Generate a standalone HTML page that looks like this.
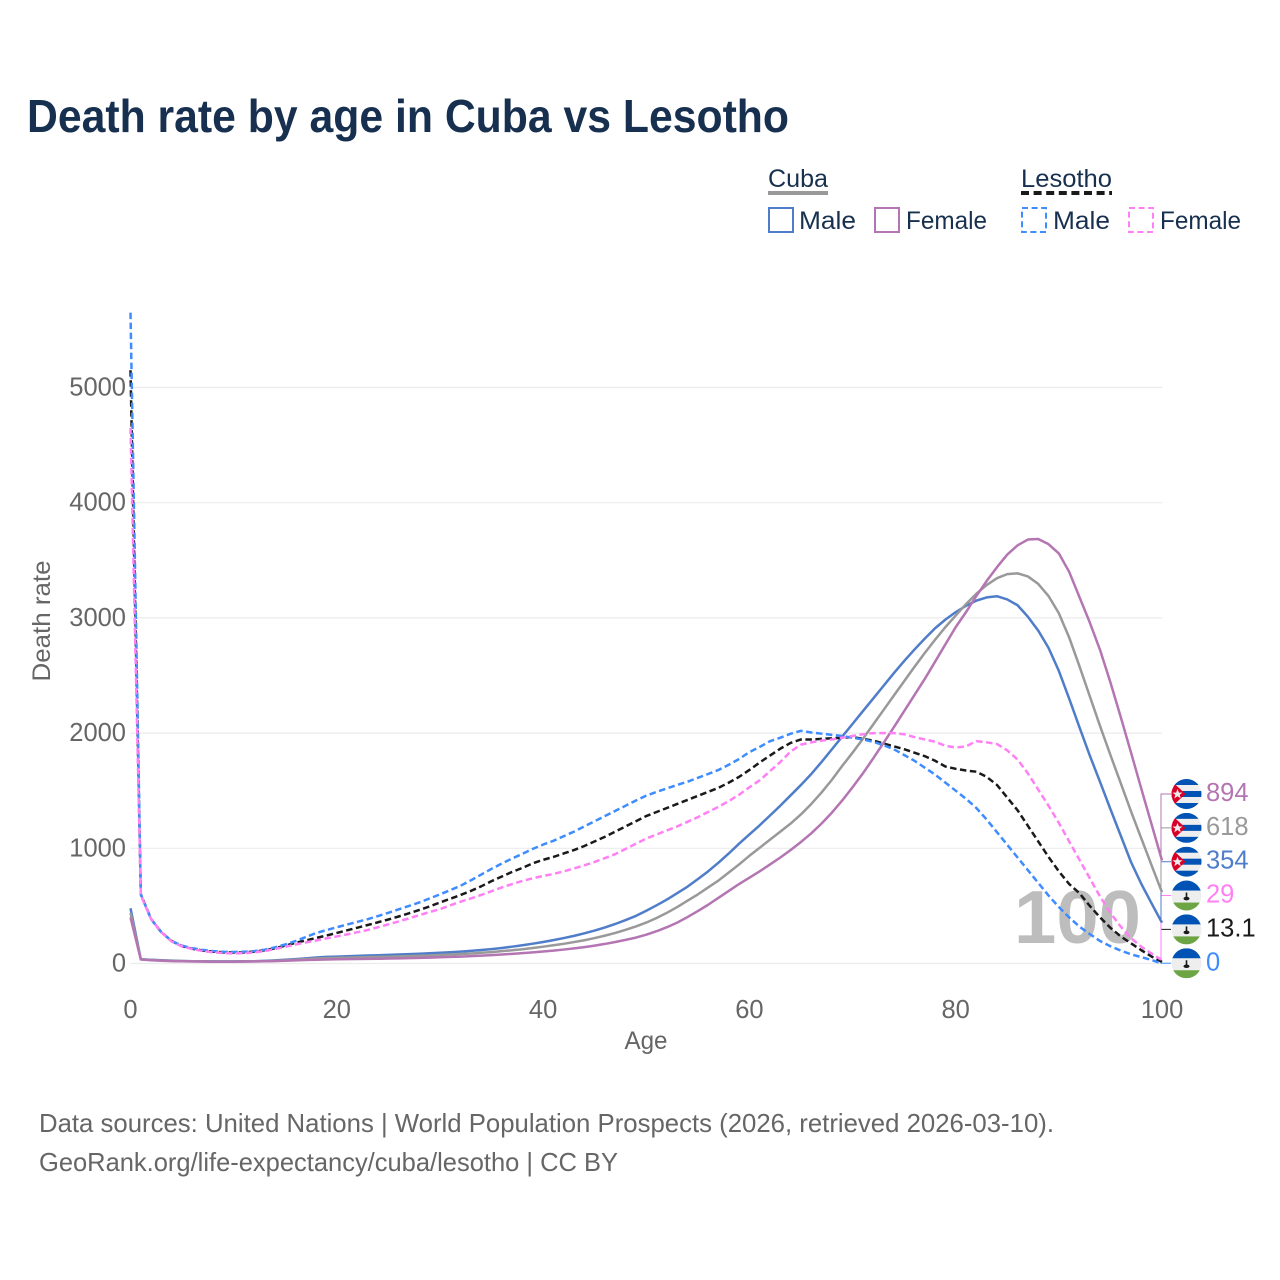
<!DOCTYPE html>
<html lang="en">
<head>
<meta charset="utf-8">
<title>Death rate by age in Cuba vs Lesotho</title>
<style>
html,body{margin:0;padding:0;background:#fff;}
svg{display:block;font-family:"Liberation Sans",sans-serif;}
</style>
</head>
<body>
<svg id="chart" xmlns="http://www.w3.org/2000/svg" width="1280" height="1280" viewBox="0 0 1280 1280">
<defs>
<clipPath id="flag-clip"><circle cx="0" cy="0" r="15"/></clipPath>
</defs>
<rect x="0" y="0" width="1280" height="1280" fill="#fff"/>
<text x="27" y="132" font-size="46" font-weight="700" fill="#18304f" textLength="762" lengthAdjust="spacingAndGlyphs">Death rate by age in Cuba vs Lesotho</text>

<g font-size="25" fill="#18304f">
<text x="768" y="187" textLength="60" lengthAdjust="spacingAndGlyphs">Cuba</text>
<line x1="768" x2="828" y1="193" y2="193" stroke="#999" stroke-width="4"/>
<text x="1021" y="187" textLength="91" lengthAdjust="spacingAndGlyphs">Lesotho</text>
<line x1="1021" x2="1112" y1="193" y2="193" stroke="#1a1a1a" stroke-width="4" stroke-dasharray="8 4.6"/>
<g>
<rect x="769" y="208" width="24" height="24" fill="none" stroke="#4f7dc9" stroke-width="2"/>
<text x="799" y="229" textLength="57" lengthAdjust="spacingAndGlyphs">Male</text>
</g>
<g>
<rect x="875" y="208" width="24" height="24" fill="none" stroke="#b475b3" stroke-width="2"/>
<text x="906" y="229" textLength="81" lengthAdjust="spacingAndGlyphs">Female</text>
</g>
<g>
<rect x="1022" y="208" width="24" height="24" fill="none" stroke="#3f8cff" stroke-width="2" stroke-dasharray="6 3.6"/>
<text x="1053" y="229" textLength="57" lengthAdjust="spacingAndGlyphs">Male</text>
</g>
<g>
<rect x="1129" y="208" width="24" height="24" fill="none" stroke="#ff80f5" stroke-width="2" stroke-dasharray="6 3.6"/>
<text x="1160" y="229" textLength="81" lengthAdjust="spacingAndGlyphs">Female</text>
</g>
</g>

<g id="grid"></g>
<g id="y-ticks"></g>
<g id="x-ticks"></g>
<text x="646" y="1049" text-anchor="middle" font-size="25" fill="#666" textLength="43" lengthAdjust="spacingAndGlyphs">Age</text>
<text transform="translate(50 621) rotate(-90)" text-anchor="middle" font-size="25" fill="#666" textLength="121" lengthAdjust="spacingAndGlyphs">Death rate</text>
<text x="1014" y="943" font-size="75" font-weight="700" fill="#bdbdbd" textLength="127" lengthAdjust="spacingAndGlyphs">100</text>
<g id="series"></g>
<g id="connectors"></g>
<g id="end-labels"></g>

<g font-size="26" fill="#666">
<text x="39" y="1132" textLength="1015" lengthAdjust="spacingAndGlyphs">Data sources: United Nations | World Population Prospects (2026, retrieved 2026-03-10).</text>
<text x="39" y="1171" textLength="579" lengthAdjust="spacingAndGlyphs">GeoRank.org/life-expectancy/cuba/lesotho | CC BY</text>
</g>
</svg>
<script>
const yTickValues = [0, 1000, 2000, 3000, 4000, 5000];
const xTickValues = [0, 20, 40, 60, 80, 100];

const cubaMale = [480,38,32,28,25,22,20,19,18,18,18,19,20,23,27,32,38,45,52,57,60,63,66,69,72,75,78,81,85,89,93,98,103,110,117,125,135,146,158,172,187,203,221,240,262,286,313,343,377,413,458,505,555,610,667,732,800,875,955,1040,1120,1200,1285,1370,1460,1550,1645,1750,1860,1970,2080,2190,2300,2410,2520,2625,2725,2820,2910,2985,3050,3105,3150,3178,3188,3160,3110,3010,2890,2740,2540,2300,2050,1805,1575,1340,1110,880,690,520,354];
const cubaFemale = [400,35,28,24,21,19,17,16,15,15,15,16,17,19,21,24,27,30,33,35,37,38,39,40,41,43,45,47,49,51,54,57,60,64,68,73,78,84,90,97,104,112,121,131,142,155,170,187,205,225,250,280,315,355,403,455,510,570,630,690,745,800,860,920,985,1055,1130,1215,1310,1415,1530,1650,1780,1915,2050,2190,2330,2470,2620,2770,2920,3050,3190,3320,3440,3550,3630,3680,3685,3640,3560,3400,3180,2960,2720,2440,2140,1830,1515,1205,894];
const cubaTotal = [440,37,30,26,23,21,19,18,17,17,17,18,19,21,24,28,33,38,43,47,49,51,53,55,57,59,62,64,67,70,74,78,82,87,93,99,107,115,124,135,146,158,171,186,202,221,242,265,292,322,355,395,440,490,545,600,660,720,790,860,935,1005,1075,1145,1215,1295,1385,1485,1595,1715,1830,1950,2075,2200,2325,2450,2575,2695,2810,2920,3020,3120,3210,3285,3345,3380,3387,3360,3295,3190,3040,2830,2580,2320,2060,1810,1565,1320,1085,850,618];
const lesothoMale = [5650,600,385,270,195,155,132,118,108,102,100,102,108,120,140,165,195,230,265,290,315,338,362,385,412,440,470,500,530,565,600,637,675,722,772,822,868,912,952,995,1032,1065,1105,1145,1190,1235,1280,1325,1370,1415,1457,1490,1520,1550,1578,1612,1645,1680,1725,1775,1835,1880,1930,1960,1995,2020,2005,1995,1985,1975,1960,1945,1925,1895,1860,1810,1760,1700,1640,1570,1500,1430,1350,1250,1140,1030,920,810,700,590,490,400,320,255,195,150,112,80,55,30,0];
const lesothoTotal = [5150,600,385,270,195,150,128,113,103,97,95,97,103,115,132,155,180,200,222,243,265,288,311,334,358,382,408,436,465,495,530,562,595,630,670,715,755,795,830,870,900,925,955,985,1020,1060,1100,1145,1190,1235,1280,1315,1350,1385,1420,1455,1490,1525,1570,1620,1680,1745,1805,1865,1915,1945,1945,1950,1955,1960,1965,1950,1935,1910,1885,1860,1830,1800,1760,1710,1690,1675,1665,1620,1550,1440,1330,1195,1060,925,800,690,610,500,400,310,235,175,115,60,13.1];
const lesothoFemale = [4650,590,385,270,190,148,125,108,97,90,87,90,97,108,125,145,165,183,200,218,235,253,272,291,315,340,365,392,420,447,472,505,537,565,595,628,660,690,717,740,760,777,800,825,852,882,915,950,995,1040,1085,1120,1155,1190,1230,1270,1315,1360,1410,1465,1530,1590,1670,1750,1840,1900,1920,1935,1945,1960,1975,1990,2000,2000,2000,1990,1965,1945,1925,1890,1875,1885,1930,1920,1905,1850,1770,1650,1510,1370,1220,1060,900,740,580,440,320,220,145,85,29];

const endValueLabels = ["894", "618", "354", "29", "13.1", "0"];

function xScale(age) { return 130.5 + age * 10.315; }
function yScale(value) { return 963.5 - value * 0.1152; }

const NS = 'http://www.w3.org/2000/svg';

const gridGroup = document.getElementById('grid');
const yTickGroup = document.getElementById('y-ticks');
yTickValues.forEach(function (v) {
  const line = document.createElementNS(NS, 'line');
  
  
  line.setAttribute('x1', xScale(0));
  line.setAttribute('x2', xScale(100));
  line.setAttribute('y1', yScale(v));
  line.setAttribute('y2', yScale(v));
  line.setAttribute('stroke', '#ebebeb');
  line.setAttribute('stroke-width', '1.2');
  gridGroup.appendChild(line);
  const t = document.createElementNS(NS, 'text');
  
  
  t.setAttribute('x', 126);
  t.setAttribute('y', yScale(v) + 8);
  t.setAttribute('text-anchor', 'end');
  t.setAttribute('font-size', '25.5');
  t.setAttribute('fill', '#666');
  t.textContent = String(v);
  yTickGroup.appendChild(t);
});

const xTickGroup = document.getElementById('x-ticks');
xTickValues.forEach(function (v) {
  const t = document.createElementNS(NS, 'text');
  
  
  t.setAttribute('x', xScale(v));
  t.setAttribute('y', 1018);
  t.setAttribute('text-anchor', 'middle');
  t.setAttribute('font-size', '25.5');
  t.setAttribute('fill', '#666');
  t.textContent = String(v);
  xTickGroup.appendChild(t);
});

const seriesList = [
  { key: 'cuba-male', values: cubaMale, color: '#4f7dc9', dash: '' },
  { key: 'cuba-total', values: cubaTotal, color: '#999999', dash: '' },
  { key: 'cuba-female', values: cubaFemale, color: '#b475b3', dash: '' },
  { key: 'lesotho-total', values: lesothoTotal, color: '#1a1a1a', dash: '6.5 3.5' },
  { key: 'lesotho-male', values: lesothoMale, color: '#3f8cff', dash: '6.5 3.5' },
  { key: 'lesotho-female', values: lesothoFemale, color: '#ff80f5', dash: '6.5 3.5' }
];

const seriesGroup = document.getElementById('series');
seriesList.forEach(function (s) {
  const p = document.createElementNS(NS, 'path');
  
  
  p.setAttribute('d', s.values.map(function (v, i) {
    return (i ? 'L' : 'M') + xScale(i).toFixed(2) + ' ' + yScale(v).toFixed(2);
  }).join(''));
  p.setAttribute('fill', 'none');
  p.setAttribute('stroke', s.color);
  p.setAttribute('stroke-width', '2.5');
  p.setAttribute('stroke-linejoin', 'round');
  if (s.dash) p.setAttribute('stroke-dasharray', s.dash);
  seriesGroup.appendChild(p);
});

const endItems = [
  { key: 'cuba-female', values: cubaFemale, color: '#b475b3', text: '#b475b3', flag: 'cuba' },
  { key: 'cuba-total', values: cubaTotal, color: '#999999', text: '#999999', flag: 'cuba' },
  { key: 'cuba-male', values: cubaMale, color: '#4f7dc9', text: '#4f7dc9', flag: 'cuba' },
  { key: 'lesotho-female', values: lesothoFemale, color: '#ff80f5', text: '#ff80f5', flag: 'lesotho' },
  { key: 'lesotho-total', values: lesothoTotal, color: '#1a1a1a', text: '#1a1a1a', flag: 'lesotho' },
  { key: 'lesotho-male', values: lesothoMale, color: '#3f8cff', text: '#3f8cff', flag: 'lesotho' }
];

function drawFlag(parent, kind, y) {
  const g = document.createElementNS(NS, 'g');
  
  
  g.setAttribute('transform', 'translate(1186.5 ' + y + ')');
  g.setAttribute('clip-path', 'url(#flag-clip)');
  let html = '';
  if (kind === 'cuba') {
    html += '<rect x="-15" y="-15" width="30" height="30" fill="#eeeeee"/>';
    html += '<rect x="-15" y="-15" width="30" height="6" fill="#0052b4"/>';
    html += '<rect x="-15" y="-3" width="30" height="6" fill="#0052b4"/>';
    html += '<rect x="-15" y="9" width="30" height="6" fill="#0052b4"/>';
    html += '<polygon points="-15,-13 -1,0 -15,13" fill="#d80027"/>';
    html += '<polygon points="-9,-5 -7.6,-1.4 -4,-1.4 -6.8,0.8 -5.8,4.4 -9,2.2 -12.2,4.4 -11.2,0.8 -14,-1.4 -10.4,-1.4" fill="#eeeeee"/>';
  } else {
    html += '<rect x="-15" y="-15" width="30" height="30" fill="#eeeeee"/>';
    html += '<rect x="-15" y="-15" width="30" height="10" fill="#0052b4"/>';
    html += '<rect x="-15" y="7" width="30" height="8" fill="#6da544"/>';
    html += '<rect x="-0.8" y="-3" width="1.6" height="6" fill="#1a1a1a"/>';
    html += '<ellipse cx="0" cy="3" rx="3" ry="1.8" fill="#1a1a1a"/>';
  }
  g.innerHTML = html;
  parent.appendChild(g);
}

const endGroup = document.getElementById('end-labels');
const connectorGroup = document.getElementById('connectors');
endItems.forEach(function (item, i) {
  const labelY = 794 + i * 33.85;
  const endY = yScale(item.values[100]);
  const c = document.createElementNS(NS, 'path');
  
  
  c.setAttribute('d', 'M1161 ' + endY.toFixed(2) + 'L1161 ' + labelY.toFixed(2) + 'L1171 ' + labelY.toFixed(2));
  c.setAttribute('fill', 'none');
  c.setAttribute('stroke', item.color);
  c.setAttribute('stroke-width', '1');
  connectorGroup.insertBefore(c, connectorGroup.firstChild);
  drawFlag(endGroup, item.flag, labelY);
  const t = document.createElementNS(NS, 'text');
  
  
  t.setAttribute('x', 1206);
  t.setAttribute('y', labelY + 7);
  t.setAttribute('font-size', '25.5');
  t.setAttribute('fill', item.text);
  t.textContent = endValueLabels[i];
  endGroup.appendChild(t);
});
</script>
</body>
</html>
